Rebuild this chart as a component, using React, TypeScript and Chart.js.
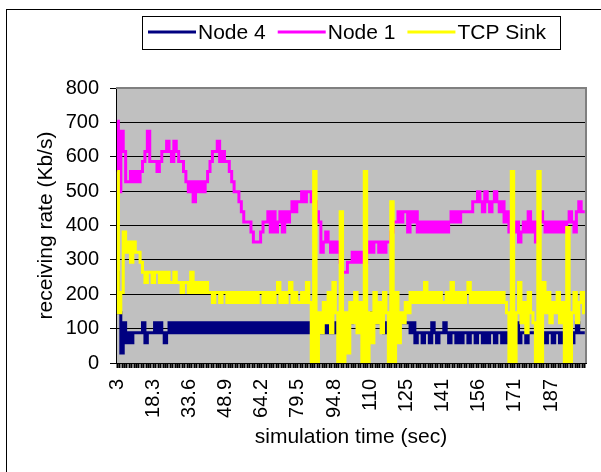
import React, { useEffect, useRef } from 'react';
import { Chart, registerables } from 'chart.js';

Chart.register(...registerables);

// x-axis: one label every 15 samples (15.3 s), samples every 1.02 s
const tickLabels = ['3', '18.3', '33.6', '48.9', '64.2', '79.5', '94.8', '110', '125', '141', '156', '171', '187'];
const samplesPerLabel = 15;

const seriesNames = ['Node 4', 'Node 1', 'TCP Sink'];
const seriesColors = ['#000080', '#FF00FF', '#FFFF00'];

// receiving rate (Kb/s)
const node4 = [
  264, 146, 29, 117, 59, 88, 59, 88, 88, 88, 88, 117, 59, 88, 88,
  88, 117, 88, 117, 88, 59, 88, 117, 88, 117, 88, 117, 88, 117, 88,
  117, 88, 117, 88, 117, 88, 117, 88, 117, 88, 117, 88, 117, 88, 117,
  88, 117, 88, 117, 88, 117, 88, 117, 88, 117, 88, 117, 88, 117, 88,
  117, 88, 117, 88, 117, 88, 117, 88, 117, 88, 117, 88, 117, 88, 117,
  88, 117, 88, 117, 88, 117, 88, 117, 88, 117, 88, 117, 88, 117, 88,
  88, 117, 88, 88, 117, 88, 117, 117, 146, 146, 146, 117, 117, 117, 117,
  117, 146, 146, 117, 117, 117, 88, 117, 117, 117, 117, 117, 117, 117, 117,
  117, 117, 88, 117, 59, 88, 88, 59, 88, 88, 59, 117, 88, 59, 88,
  88, 117, 88, 59, 88, 88, 59, 88, 59, 88, 88, 59, 88, 88, 59,
  88, 88, 59, 88, 59, 88, 88, 59, 88, 88, 59, 88, 59, 88, 88,
  88, 117, 59, 88, 88, 59, 88, 88, 88, 88, 59, 88, 88, 59, 88,
  88, 59, 88, 88, 59, 88, 59, 88, 59, 59, 88, 117, 88, 88, 88,
];

const node1 = [
  703, 498, 674, 615, 527, 527, 557, 527, 557, 527, 557, 586, 615, 674, 586,
  586, 586, 557, 586, 615, 615, 645, 615, 586, 645, 615, 586, 586, 557, 527,
  498, 527, 469, 527, 498, 527, 498, 527, 557, 586, 615, 615, 645, 586, 615,
  586, 586, 557, 527, 498, 498, 469, 440, 410, 410, 410, 381, 352, 352, 352,
  381, 410, 410, 440, 381, 440, 381, 410, 440, 381, 440, 410, 440, 469, 440,
  469, 469, 498, 469, 498, 498, 469, 469, 440, 410, 322, 352, 381, 352, 322,
  352, 322, 352, 293, 264, 264, 293, 293, 322, 293, 322, 293, 322, 293, 322,
  352, 322, 352, 352, 322, 352, 322, 352, 352, 381, 410, 410, 440, 410, 440,
  440, 381, 440, 410, 440, 381, 410, 381, 410, 381, 410, 381, 410, 381, 410,
  381, 410, 381, 410, 440, 410, 440, 410, 440, 440, 440, 440, 440, 469, 469,
  498, 469, 440, 498, 469, 440, 469, 498, 469, 440, 469, 410, 440, 381, 410,
  381, 410, 352, 381, 410, 381, 440, 381, 410, 352, 410, 440, 410, 381, 410,
  381, 410, 381, 410, 381, 410, 381, 410, 440, 410, 381, 440, 469, 440, 440,
];

const tcpSink = [
  557, 146, 205, 381, 322, 352, 293, 352, 322, 322, 293, 264, 234, 264, 264,
  234, 264, 264, 234, 264, 234, 264, 234, 234, 264, 234, 234, 205, 234, 234,
  205, 264, 205, 234, 205, 234, 205, 234, 205, 205, 176, 205, 205, 176, 205,
  205, 176, 205, 176, 205, 176, 205, 176, 205, 176, 205, 176, 205, 176, 205,
  205, 176, 205, 176, 205, 176, 205, 234, 176, 205, 176, 205, 234, 176, 205,
  176, 176, 205, 176, 234, 176, 0, 557, 0, 146, 88, 176, 117, 205, 88,
  234, 146, 0, 440, 0, 146, 29, 176, 117, 205, 88, 176, 0, 557, 0,
  146, 59, 205, 117, 176, 88, 205, 146, 0, 469, 0, 205, 59, 146, 117,
  176, 146, 205, 176, 205, 176, 205, 176, 234, 176, 205, 176, 205, 176, 205,
  176, 176, 205, 176, 234, 176, 205, 176, 205, 176, 205, 234, 176, 205, 176,
  205, 176, 205, 176, 205, 176, 205, 176, 205, 176, 205, 176, 146, 0, 557,
  0, 146, 234, 117, 176, 88, 205, 146, 117, 0, 557, 0, 234, 146, 205,
  117, 176, 146, 205, 117, 176, 0, 394, 0, 146, 205, 117, 176, 205, 146,
];

const yMin = 0;
const yMax = 800;
const yStep = 100;

const FONT = '"Liberation Sans", Arial, Helvetica, sans-serif';

export default function App() {
  const canvasRef = useRef<HTMLCanvasElement | null>(null);

  useEffect(() => {
    document.body.style.overflow = 'hidden';
    const canvas = canvasRef.current;
    if (!canvas) return;

    const labels = node1.map((_, i) =>
      i % samplesPerLabel === 0 ? tickLabels[i / samplesPerLabel] ?? '' : ''
    );

    const plotFrame = {
      id: 'plotFrame',
      beforeDraw(chart: any) {
        const { ctx, chartArea: a } = chart;
        ctx.save();
        ctx.fillStyle = '#C0C0C0';
        ctx.fillRect(a.left, a.top, a.right - a.left, a.bottom - a.top);
        ctx.restore();
      },
      afterDraw(chart: any) {
        const { ctx, chartArea: a } = chart;
        ctx.save();
        // gray frame on top and right of plot
        ctx.strokeStyle = '#808080';
        ctx.lineWidth = 2;
        ctx.beginPath();
        ctx.moveTo(a.left, a.top);
        ctx.lineTo(a.right, a.top);
        ctx.lineTo(a.right, a.bottom);
        ctx.stroke();

        // legend
        const boxX = 142;
        const boxY = 16;
        const boxW = 418;
        const boxH = 33;
        ctx.fillStyle = '#FFFFFF';
        ctx.fillRect(boxX, boxY, boxW, boxH);
        ctx.strokeStyle = '#000000';
        ctx.lineWidth = 1;
        ctx.strokeRect(boxX + 0.5, boxY + 0.5, boxW, boxH);
        ctx.font = `21px ${FONT}`;
        ctx.textBaseline = 'middle';
        ctx.textAlign = 'left';
        const yMid = boxY + 16;
        let x = boxX + 6;
        seriesNames.forEach((name, k) => {
          ctx.strokeStyle = seriesColors[k];
          ctx.lineWidth = 3;
          ctx.beginPath();
          ctx.moveTo(x, yMid);
          ctx.lineTo(x + 48, yMid);
          ctx.stroke();
          x += 50;
          ctx.fillStyle = '#000000';
          ctx.fillText(name, x, yMid + 1);
          x += ctx.measureText(name).width + 12;
        });
        ctx.restore();
      },
    };

    const series = [node4, node1, tcpSink];
    const chart = new Chart(canvas, {
      type: 'line',
      data: {
        labels,
        datasets: series.map((data, k) => ({
          label: seriesNames[k],
          data,
          borderColor: seriesColors[k],
          backgroundColor: seriesColors[k],
          borderWidth: 3,
          pointRadius: 0,
          tension: 0,
          fill: false,
          stepped: 'middle' as const,
          borderJoinStyle: 'miter' as const,
          order: 2 - k,
        })),
      },
      options: {
        responsive: false,
        animation: false,
        devicePixelRatio: 1,
        layout: { padding: { left: 0, top: 88, right: 15, bottom: 0 } },
        plugins: {
          legend: { display: false },
          tooltip: { enabled: false },
        },
        scales: {
          x: {
            type: 'category',
            offset: true,
            grid: {
              drawOnChartArea: false,
              drawTicks: true,
              tickLength: 5,
              tickWidth: 2,
              color: '#000000',
              offset: false,
            },
            border: { display: true, color: '#000000', width: 1 },
            ticks: {
              autoSkip: false,
              maxRotation: 90,
              minRotation: 90,
              padding: 11,
              color: '#000000',
              font: { family: FONT, size: 20 },
            },
            title: {
              display: true,
              text: 'simulation time (sec)',
              color: '#000000',
              font: { family: FONT, size: 21 },
              padding: { top: 0, bottom: 22 },
            },
            afterFit: (s: any) => {
              s.height = 109;
              s.paddingLeft = 0;
              s.paddingRight = 0;
            },
          },
          y: {
            min: yMin,
            max: yMax,
            ticks: {
              stepSize: yStep,
              padding: 11,
              color: '#000000',
              font: { family: FONT, size: 20 },
            },
            grid: {
              color: '#000000',
              tickColor: '#000000',
              tickLength: 6,
              lineWidth: 1,
            },
            border: { display: true, color: '#000000', width: 1 },
            title: {
              display: true,
              text: 'receiving rate (Kb/s)',
              color: '#000000',
              font: { family: FONT, size: 21 },
              padding: { top: 34, bottom: 0 },
            },
            afterFit: (s: any) => {
              s.width = 116;
              s.paddingTop = 0;
              s.paddingBottom = 0;
            },
          },
        },
      },
      plugins: [plotFrame],
    });

    return () => {
      chart.destroy();
    };
  }, []);

  return (
    <div
      style={{
        position: 'absolute',
        left: 0,
        top: 0,
        width: 601,
        height: 472,
        overflow: 'hidden',
        background: '#FFFFFF',
      }}
    >
      <div
        style={{
          position: 'absolute',
          left: 6,
          top: 9,
          width: 700,
          height: 600,
          border: '1px solid #000000',
        }}
      />
      <canvas
        ref={canvasRef}
        width={601}
        height={472}
        style={{ position: 'absolute', left: 0, top: 0, width: 601, height: 472 }}
      />
    </div>
  );
}
